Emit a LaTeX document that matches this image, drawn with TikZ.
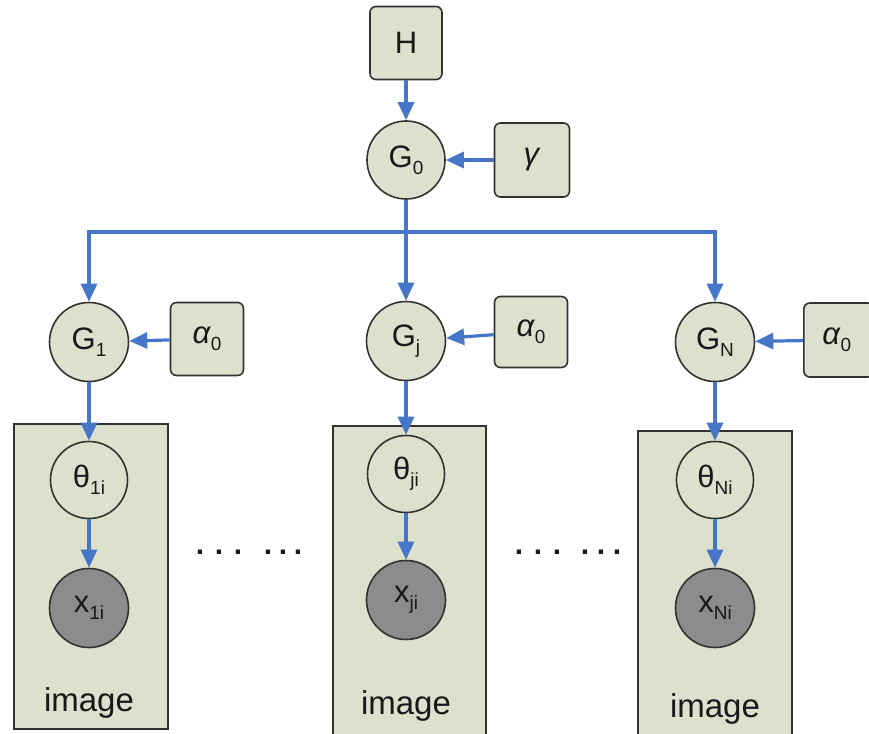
\documentclass[tikz,border=0pt]{standalone}
\usepackage{fontspec}
\setmainfont{Liberation Sans}
\usetikzlibrary{arrows.meta}
\definecolor{nodefill}{RGB}{221,224,205}
\definecolor{obsfill}{RGB}{140,140,140}
\definecolor{edgeblue}{RGB}{70,118,200}
\definecolor{rim}{RGB}{50,50,50}
\definecolor{ink}{RGB}{25,25,25}
\newcommand{\lowsub}[1]{\raisebox{-0.22em}{\fontsize{19}{19}\selectfont #1}}
\newcommand{\dotgroup}[1]{\makebox[#1]{.}\makebox[#1]{.}\makebox[#1]{.}}
\begin{document}
\begin{tikzpicture}[x=1pt,y=-1pt,
  every node/.style={text=ink,font=\fontsize{31}{31}\selectfont},
  var/.style={circle,draw=rim,line width=1.6pt,fill=nodefill,minimum size=79pt,inner sep=0pt},
  obs/.style={var,fill=obsfill},
  hyper/.style={rectangle,rounded corners=6pt,draw=rim,line width=1.6pt,fill=nodefill,minimum width=73pt,minimum height=73pt,inner sep=0pt},
  plate/.style={rectangle,draw=rim,line width=1.9pt,fill=nodefill,inner sep=0pt,anchor=north west},
  edge/.style={draw=edgeblue,line width=3.2pt},
  arr/.style={edge,-{Triangle[width=16pt,length=18pt]}},
  dots/.style={font=\bfseries\fontsize{30}{30}\selectfont,inner sep=0pt}]
\useasboundingbox (0,0) rectangle (869,733);

% plates
\node[plate,minimum width=154pt,minimum height=305pt] (P1) at (13,423) {};
\node[plate,minimum width=153pt,minimum height=315pt] (P2) at (332,425) {};
\node[plate,minimum width=154pt,minimum height=310pt] (P3) at (637,430) {};

% top level
\node[hyper,minimum width=72pt] (H) at (406,43) {H};
\node[var,minimum size=78pt] (G0) at (406,160) {G\lowsub{0}};
\node[hyper,minimum width=75pt,minimum height=74pt] (gam) at (532,160) {\textit{γ}};
\coordinate (J) at (406,232);

% groups
\node[var] (G1) at (89,342) {G\lowsub{1}};
\node[hyper] (A1) at (207,339) {\textit{α}\lowsub{0}};
\node[var] (Gj) at (406,341) {G\lowsub{j}};
\node[hyper,minimum height=71pt] (Aj) at (531,332) {\textit{α}\lowsub{0}};
\node[var] (GN) at (715,342) {G\lowsub{N}};
\node[hyper,minimum height=74pt,minimum width=70pt,anchor=west] (AN) at (803,340) {\hspace*{-4pt}\textit{α}\lowsub{0}};

% per-image variables
\node[var,minimum size=77pt] (T1) at (89,480) {θ\lowsub{1i}};
\node[obs] (X1) at (89,608) {x\lowsub{1i}};
\node[var,minimum size=77pt] (Tj) at (406,474) {θ\lowsub{ji}};
\node[obs] (Xj) at (406,600) {x\lowsub{ji}};
\node[var,minimum size=77pt] (TN) at (715,480) {θ\lowsub{Ni}};
\node[obs] (XN) at (715,608) {x\lowsub{Ni}};

% plate labels
\node[font=\fontsize{33}{33}\selectfont] (L1) at (89,703) {image};
\node[font=\fontsize{33}{33}\selectfont] (L2) at (406,706) {image};
\node[font=\fontsize{33}{33}\selectfont] (L3) at (715,709) {image};

% ellipses between the plates
\node[dots] (D1) at (219,552) {\dotgroup{19pt}};
\node[dots] (D2) at (283,552) {\dotgroup{15pt}};
\node[dots] (D3) at (538,552) {\dotgroup{19pt}};
\node[dots] (D4) at (601,552) {\dotgroup{16pt}};

% edges
\draw[arr] (H) -- (G0);
\draw[arr] (gam) -- (G0);
\draw[edge] (G0) -- (J);
\draw[arr] (J) -| (G1);
\draw[arr] (J) -| (GN);
\draw[arr] (J) -- (Gj);
\draw[arr] (A1) -- (G1);
\draw[arr] (Aj) -- (Gj);
\draw[arr] (AN) -- (GN);
\draw[arr] (G1) -- (T1);
\draw[arr] (Gj) -- (Tj);
\draw[arr] (GN) -- (TN);
\draw[arr] (T1) -- (X1);
\draw[arr] (Tj) -- (Xj);
\draw[arr] (TN) -- (XN);
\end{tikzpicture}
\end{document}
